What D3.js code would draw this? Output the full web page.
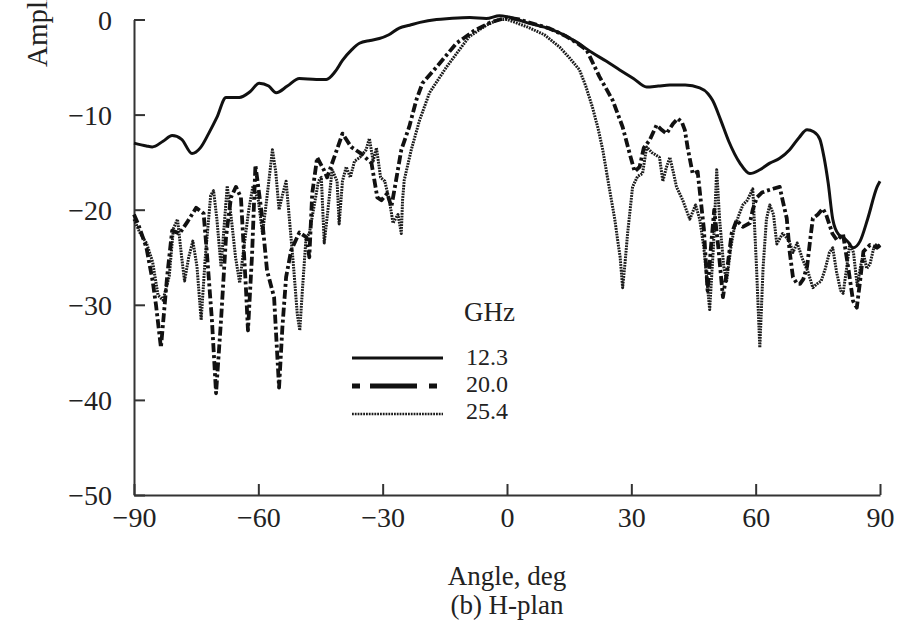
<!DOCTYPE html>
<html><head><meta charset="utf-8">
<script src="https://cdn.jsdelivr.net/npm/d3@7"></script>
<style>
body{margin:0;background:#fff}
svg{display:block}
text{font-family:"Liberation Serif","Times New Roman",serif;fill:#222}
</style>
</head><body>
<svg id="chart" width="897" height="632"></svg>
<script>
// ---- data ----
const xTicks = [-90, -60, -30, 0, 30, 60, 90];
const yTicks = [0, -10, -20, -30, -40, -50];
const legendTitle = "GHz";
const seriesNames = ["12.3", "20.0", "25.4"];
const xTitle = "Angle, deg";
const subTitle = "(b) H-plan";
const yTitle = "Amplitude, dB";

// [angle (deg), amplitude (dB)]
const series123 = [[-90,-13.0],[-87,-13.3],[-85.6,-13.4],[-83,-12.8],[-80.8,-12.2],[-78.5,-12.6],[-76,-14.1],[-74,-13.5],[-72,-12.0],[-70,-10.3],[-67.8,-8.2],[-64.6,-8.2],[-62,-7.6],[-59.8,-6.7],[-57.5,-7.0],[-55.7,-7.7],[-53,-7.0],[-50.1,-6.2],[-46,-6.3],[-43.6,-6.3],[-41.5,-5.5],[-39.7,-4.3],[-37.5,-3.2],[-35.6,-2.5],[-33,-2.2],[-30.8,-2.0],[-28.5,-1.6],[-26,-0.9],[-23.5,-0.6],[-21,-0.3],[-17,0],[-13.9,0.1],[-9,0.2],[-5,0.1],[-1.8,0.4],[0,0.3],[2.5,0],[5.4,-0.4],[9,-0.8],[12.7,-1.4],[16.5,-2.3],[20.6,-3.5],[24,-4.4],[27.2,-5.3],[30.5,-6.2],[33.7,-7.1],[36.5,-7.0],[39.3,-6.9],[43,-6.9],[46.5,-7.2],[48.5,-7.8],[49.6,-8.5],[51.5,-10.5],[53.5,-12.8],[56.2,-15.1],[58.6,-16.2],[61,-15.8],[63.4,-15.1],[65.8,-14.6],[68.2,-13.7],[70.5,-12.4],[72.4,-11.6],[74,-11.8],[75.5,-12.6],[76.5,-14.5],[77.5,-17.2],[78.6,-21.0],[80,-22.6],[81.1,-22.9],[82.3,-23.4],[83.5,-24.0],[85.2,-23.3],[87,-21.0],[89.3,-17.6],[90,-17.0]];

const series200 = [[-90,-20.5],[-89,-21.5],[-87,-24],[-85.5,-27.5],[-84.7,-30],[-83.5,-34.5],[-82,-27],[-80.8,-22.2],[-79,-22.5],[-77,-21.2],[-75,-19.8],[-73.2,-20.4],[-72.4,-24.6],[-71.2,-31.6],[-70.2,-39.3],[-69,-31.6],[-67.8,-22.9],[-66.6,-18.7],[-65.4,-17.6],[-64.2,-18.7],[-63,-28.2],[-62.5,-32.7],[-61.5,-24.6],[-60.7,-15.3],[-59.3,-20],[-57.9,-26.4],[-56.2,-29.2],[-55,-38.7],[-54.2,-32.4],[-53.3,-27.1],[-52.1,-24.3],[-50.1,-22.4],[-48.4,-22.9],[-47.7,-25],[-47,-18.3],[-45.8,-14.5],[-44.1,-15.9],[-43.4,-16.6],[-41.7,-14.5],[-39.7,-12],[-37.6,-13.4],[-35.2,-14.1],[-32.7,-15.1],[-31.3,-18.7],[-30.3,-19],[-28.9,-18.3],[-27.9,-19.7],[-27,-17.5],[-25.5,-13.7],[-23.6,-11.3],[-21.9,-8.5],[-20.4,-6.7],[-17,-5],[-12.2,-2.5],[-8,-1.2],[-4,-0.3],[0,0.2],[3,0],[6,-0.4],[10,-0.9],[14,-1.7],[17,-2.5],[19.2,-3.2],[22.3,-6],[25.5,-8.5],[27.9,-11.3],[29.6,-14.1],[30.8,-16],[32,-15.5],[33,-13.5],[34.4,-12.7],[36.1,-11.1],[37.3,-11.6],[38.5,-12],[40,-11],[41.2,-10.4],[42.2,-10.8],[42.9,-11.6],[43.6,-13.5],[44.8,-16.2],[46,-16],[47.5,-22],[48.4,-28.5],[49.2,-24],[50,-20],[51,-24],[52.1,-29.2],[53,-26.7],[54.2,-22.5],[55.4,-21.1],[56.9,-21.8],[58.6,-21.4],[59.3,-20],[60.3,-18.7],[61.5,-18.2],[62.7,-18],[64.2,-17.8],[65.8,-17.6],[66.5,-19],[67.5,-20.9],[68.2,-24.4],[69,-27.1],[70,-27.8],[70.7,-27.8],[71.5,-27.3],[72.4,-26],[73.2,-23],[73.8,-20.9],[75,-20.5],[76.2,-19.9],[77,-20.5],[78.5,-22.5],[79.6,-23.2],[81.1,-22.6],[82.3,-26],[83.5,-29.6],[84.4,-30.3],[85.2,-27.5],[86,-24.4],[87.6,-23.7],[89.3,-24],[90,-23.7]];

const series254 = [[-90,-21],[-88.5,-22.5],[-87,-23.5],[-85.5,-25.5],[-84.2,-29],[-83,-29.5],[-81.5,-27],[-80.5,-22],[-79.5,-21],[-78.5,-25],[-77.8,-27.5],[-76.8,-25],[-75.8,-23.3],[-74.8,-26],[-73.8,-31.6],[-72.8,-25],[-71.5,-18.5],[-70.8,-18],[-70,-21],[-69,-26],[-68.3,-22],[-67.5,-17.5],[-66.5,-21],[-65.5,-25],[-64.5,-27.7],[-63.5,-24],[-62.3,-20],[-61.3,-17.5],[-60,-19],[-59,-22.5],[-58,-19],[-57.2,-16],[-56.6,-13.7],[-55.8,-16],[-55,-20],[-54.2,-18.5],[-53.3,-17],[-52.5,-21],[-51.5,-26],[-50.6,-31],[-50,-32.7],[-49.3,-28],[-48.5,-23],[-47.7,-22.5],[-46.5,-19.5],[-45.5,-17],[-44.8,-16.6],[-44.1,-23.5],[-43.2,-20],[-42.2,-15.8],[-41,-17],[-40.5,-21.5],[-39.7,-17],[-38.8,-15.5],[-37.8,-16.6],[-36.8,-14.9],[-35.5,-14.5],[-34,-13.7],[-33.2,-12.5],[-32.3,-14.9],[-31.5,-13.5],[-30.5,-16.6],[-29.5,-17],[-28.4,-19],[-27.5,-21.4],[-26.3,-20.5],[-25.5,-22.5],[-25.2,-19],[-24.8,-16.9],[-23.1,-13.7],[-21.1,-10.6],[-18.7,-7.7],[-14.6,-5],[-9.1,-1.8],[-5,-0.6],[-2,0],[0,0],[2,-0.3],[5,-0.8],[9,-1.6],[12.7,-2.9],[15,-4],[17.5,-5.3],[19,-7],[20.6,-9.2],[22,-11.5],[23.1,-13.7],[24.2,-16.5],[25.2,-19],[26,-21],[26.7,-23.2],[27.3,-25],[27.9,-28.2],[28.5,-25.5],[29.1,-22.5],[30.3,-17.6],[31.5,-16.5],[32.7,-16.2],[33.7,-13.4],[35,-14],[36.8,-14.5],[37.6,-17],[38.5,-15.5],[39.3,-14.5],[40.1,-16],[40.9,-17.6],[42.4,-19],[44.1,-21],[45.5,-19.5],[46.5,-21],[47.5,-24],[48.9,-30.5],[49.8,-24],[50.6,-15.8],[51.3,-21],[52.3,-26],[53,-27.5],[54,-24],[54.8,-22],[56,-20.5],[56.9,-19.5],[58,-19],[59.3,-17.8],[60.2,-26],[61,-34.5],[61.8,-26],[62.6,-21],[63.4,-19.5],[64.3,-20.5],[65.1,-23.6],[66.5,-22.5],[68,-23.2],[69,-24.5],[70,-23.5],[71.4,-25.3],[72.6,-26.5],[73.8,-28.2],[74.8,-27.8],[75.8,-27.5],[76.8,-26.2],[77.8,-24.5],[78.6,-24],[79.5,-26.5],[80.5,-28.5],[81.1,-28.8],[82,-26],[82.7,-23.6],[83.6,-24.5],[84.5,-28],[85.3,-26],[86,-24.6],[86.8,-26.2],[87.6,-25.7],[88.5,-24],[89.3,-23.6],[90,-24]];

// ---- drawing ----
const svg = d3.select("#chart");
svg.append("rect").attr("width", 897).attr("height", 632).attr("fill", "#fff");

const x = d3.scaleLinear().domain([-90, 90]).range([134, 880]);
const y = d3.scaleLinear().domain([-50, 0]).range([495, 19.5]);
const fmt = d => d3.format("d")(d);

const axisColor = "#333";
const gx = svg.append("g").attr("transform", `translate(0,${y(-50)})`)
  .call(d3.axisBottom(x).tickValues(xTicks).tickSizeInner(-11).tickSizeOuter(0).tickPadding(24).tickFormat(fmt));
const gy = svg.append("g").attr("transform", `translate(${x(-90)},0)`)
  .call(d3.axisLeft(y).tickValues(yTicks).tickSizeInner(-11).tickSizeOuter(0).tickPadding(22).tickFormat(fmt));
[gx, gy].forEach(g => {
  g.select(".domain").attr("stroke", axisColor).attr("stroke-width", 2);
  g.selectAll(".tick line").attr("stroke", axisColor).attr("stroke-width", 2);
  g.selectAll(".tick text").attr("font-size", 28).attr("fill", "#222")
   .attr("font-family", '"Liberation Serif","Times New Roman",serif');
});
gx.selectAll(".tick text").attr("dy", "0.71em").attr("y", 12);
gy.selectAll(".tick text").attr("dy", "0.34em");

const line = d3.line().x(d => x(d[0])).y(d => y(d[1]));
const lineSmooth = d3.line().x(d => x(d[0])).y(d => y(d[1])).curve(d3.curveMonotoneX);

const plot = svg.append("g");
plot.append("path").datum(series254).attr("d", line)
  .attr("fill", "none").attr("stroke", "#1c1c1c").attr("stroke-width", 3)
  .attr("stroke-dasharray", "1.8,1").attr("stroke-linejoin", "round");
plot.append("path").datum(series200).attr("d", line)
  .attr("fill", "none").attr("stroke", "#111").attr("stroke-width", 3.8)
  .attr("stroke-dasharray", "9,3,3,3").attr("stroke-linejoin", "round");
plot.append("path").datum(series123).attr("d", lineSmooth)
  .attr("fill", "none").attr("stroke", "#111").attr("stroke-width", 3)
  .attr("stroke-linejoin", "round");

// legend
const lg = svg.append("g");
lg.append("text").attr("x", 464).attr("y", 321).attr("font-size", 27).text(legendTitle);
const legendRows = [
  {name: seriesNames[0], y: 358, stroke: "#111", w: 3, dash: null, ty: 365},
  {name: seriesNames[1], y: 386, stroke: "#111", w: 5, dash: "8,10,47,12,8", ty: 392},
  {name: seriesNames[2], y: 414, stroke: "#1c1c1c", w: 2.5, dash: "1.8,1", ty: 419}
];
legendRows.forEach(r => {
  lg.append("line").attr("x1", 352).attr("x2", 443).attr("y1", r.y).attr("y2", r.y)
    .attr("stroke", r.stroke).attr("stroke-width", r.w).attr("stroke-dasharray", r.dash);
  lg.append("text").attr("x", 466).attr("y", r.ty).attr("font-size", 24).text(r.name);
});

// titles
svg.append("text").attr("x", 507).attr("y", 585).attr("text-anchor", "middle")
  .attr("font-size", 27).text(xTitle);
svg.append("text").attr("x", 507).attr("y", 614).attr("text-anchor", "middle")
  .attr("font-size", 27).text(subTitle);
svg.append("text").attr("transform", "translate(47,67) rotate(-90)")
  .attr("text-anchor", "start").attr("font-size", 29).text(yTitle);
</script>
</body></html>
